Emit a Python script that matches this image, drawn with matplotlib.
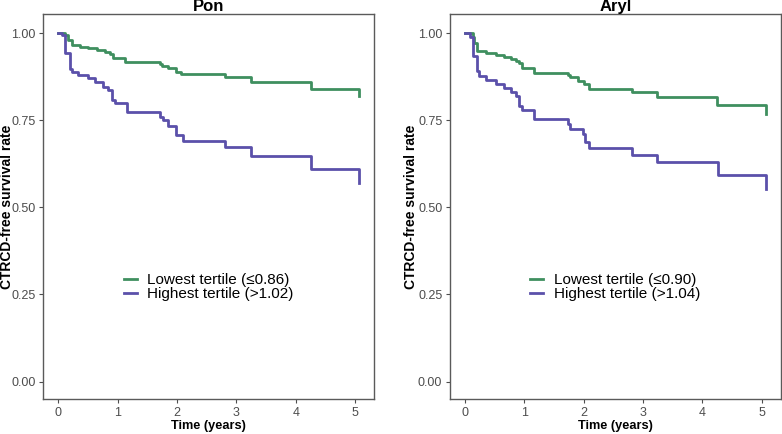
import matplotlib.pyplot as plt

plt.rcParams['font.family'] = ['Liberation Sans', 'DejaVu Sans']

# Kaplan-Meier step points (time in years, survival)
pon_low_t = [0, 0.12, 0.17, 0.23, 0.37, 0.51, 0.65, 0.79, 0.87, 0.93, 1.12, 1.71, 1.74, 1.85, 1.99, 2.07, 2.80, 3.25, 4.26, 5.07]
pon_low_s = [1.0, 0.994, 0.980, 0.966, 0.961, 0.956, 0.951, 0.946, 0.940, 0.930, 0.918, 0.911, 0.905, 0.899, 0.889, 0.882, 0.873, 0.861, 0.840, 0.820]
pon_high_t = [0, 0.07, 0.12, 0.20, 0.23, 0.34, 0.51, 0.62, 0.76, 0.84, 0.90, 0.96, 1.15, 1.71, 1.77, 1.85, 1.99, 2.10, 2.80, 3.25, 4.26, 5.07]
pon_high_s = [1.0, 0.994, 0.942, 0.896, 0.889, 0.880, 0.870, 0.861, 0.846, 0.837, 0.808, 0.799, 0.775, 0.760, 0.751, 0.734, 0.708, 0.691, 0.674, 0.648, 0.609, 0.569]

aryl_low_t = [0, 0.13, 0.16, 0.21, 0.35, 0.52, 0.66, 0.77, 0.86, 0.91, 0.97, 1.17, 1.73, 1.78, 1.90, 2.01, 2.09, 2.82, 3.24, 4.25, 5.08]
aryl_low_s = [1.0, 0.990, 0.973, 0.949, 0.943, 0.938, 0.932, 0.925, 0.921, 0.913, 0.900, 0.887, 0.881, 0.873, 0.863, 0.854, 0.840, 0.832, 0.817, 0.794, 0.768]
aryl_high_t = [0, 0.09, 0.13, 0.20, 0.24, 0.35, 0.52, 0.66, 0.77, 0.86, 0.91, 0.97, 1.17, 1.73, 1.78, 1.99, 2.02, 2.10, 2.82, 3.24, 4.26, 5.08]
aryl_high_s = [1.0, 0.990, 0.935, 0.892, 0.878, 0.865, 0.854, 0.842, 0.830, 0.820, 0.792, 0.779, 0.754, 0.739, 0.725, 0.711, 0.687, 0.669, 0.651, 0.629, 0.594, 0.553]

titles = ['Pon', 'Aryl']
low_labels = ['Lowest tertile (\u22640.86)', 'Lowest tertile (\u22640.90)']
high_labels = ['Highest tertile (>1.02)', 'Highest tertile (>1.04)']

green = '#3F8F5F'
purple = '#5B50AA'
grey = '#4D4D4D'

fig = plt.figure(figsize=(7.82, 4.34), dpi=100)
ax1 = fig.add_axes([0.0554, 0.0806, 0.4233, 0.8864])
ax2 = fig.add_axes([0.5754, 0.0806, 0.4229, 0.8864])

panels = [
    (ax1, pon_low_t, pon_low_s, pon_high_t, pon_high_s),
    (ax2, aryl_low_t, aryl_low_s, aryl_high_t, aryl_high_s),
]
ylabel_x = [-0.090, -0.097]

for i, (ax, lt, ls, ht, hs) in enumerate(panels):
    ax.step(lt, ls, where='post', color=green, lw=2.0, label=low_labels[i])
    ax.step(ht, hs, where='post', color=purple, lw=2.0, label=high_labels[i])

    ax.set_xlim(-0.25, 5.32)
    ax.set_ylim(-0.05, 1.054)
    ax.set_xticks([0, 1, 2, 3, 4, 5])
    ax.set_yticks([0, 0.25, 0.5, 0.75, 1.0])
    ax.set_yticklabels(['0.00', '0.25', '0.50', '0.75', '1.00'])
    ax.tick_params(length=3, width=0.8, color=grey, labelcolor=grey, labelsize=9, pad=2.5)

    for sp in ax.spines.values():
        sp.set_color('#5A5A5A')
        sp.set_linewidth(1.0)

    ax.set_title(titles[i], fontsize=12, fontweight='bold', pad=2)
    ax.set_xlabel('Time (years)', fontsize=9.2, fontweight='bold', labelpad=1)
    ax.set_ylabel('CTRCD-free survival rate', fontsize=10, fontweight='bold')
    ax.yaxis.set_label_coords(ylabel_x[i], 0.5)

    leg = ax.legend(loc='center', bbox_to_anchor=(0.5, 0.29), frameon=False,
                    fontsize=11, handlelength=0.85, handletextpad=0.7,
                    labelspacing=0.0)
    for line in leg.get_lines():
        line.set_linewidth(2.0)

fig.savefig('out.png', dpi=100)
